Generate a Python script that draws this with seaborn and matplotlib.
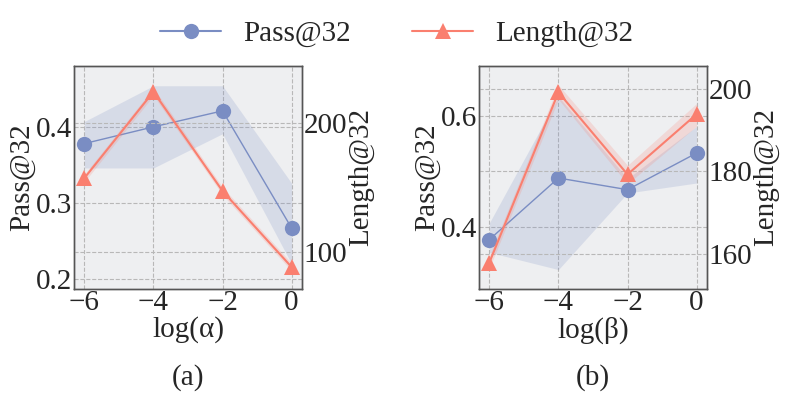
import numpy as np
import pandas as pd
import matplotlib
matplotlib.use("Agg")
import matplotlib.pyplot as plt
import seaborn as sns
from matplotlib.lines import Line2D

# x positions (log scale of the hyper-parameter)
log_vals = [-6, -4, -2, 0]

# panel (a): alpha sweep
pass_a = [0.378, 0.400, 0.421, 0.267]
pass_a_lo = [0.346, 0.346, 0.391, 0.220]
pass_a_hi = [0.407, 0.454, 0.454, 0.326]
len_a = [157, 224, 147, 88]
len_a_lo = [154, 221, 144, 85]
len_a_hi = [160, 227, 150, 91]

# panel (b): beta sweep
pass_b = [0.378, 0.489, 0.468, 0.534]
pass_b_lo = [0.355, 0.324, 0.462, 0.480]
pass_b_hi = [0.408, 0.636, 0.488, 0.582]
len_b = [157.9, 199.2, 179.3, 193.9]
len_b_lo = [156.5, 197.5, 177.0, 191.0]
len_b_hi = [159.5, 201.0, 181.5, 196.5]

BLUE = "#7A8DC3"
RED = "#FA7F6F"
BG = "#EEEFF1"

sns.set_style("white")
plt.rcParams["font.family"] = ["Liberation Serif", "DejaVu Serif"]
FS = 21

fig = plt.figure(figsize=(7.93, 3.99), dpi=100)


def draw_panel(rect, xs, p, plo, phi, l, llo, lhi, pylim, pticks, lylim, lticks, xlabel, tag):
    ax = fig.add_axes(rect)
    ax.set_facecolor(BG)
    ax.fill_between(xs, plo, phi, color=BLUE, alpha=0.2, lw=0, zorder=1)
    df = pd.DataFrame({"x": xs, "y": p})
    sns.lineplot(data=df, x="x", y="y", ax=ax, color=BLUE, lw=1.0,
                 marker="o", markersize=11, markeredgewidth=0, zorder=3)
    ax.set_ylim(*pylim)
    ax.set_yticks(pticks)
    ax.set_xlim(-6.3, 0.3)
    ax.set_xticks(xs)
    ax.set_xticklabels([f"\u2212{abs(v)}" if v < 0 else str(v) for v in xs])
    ax.grid(True, ls="--", color="#B8B8B8", lw=0.8)
    ax.set_axisbelow(True)
    ax.set_ylabel("Pass@32", fontsize=FS, labelpad=1)
    ax.set_xlabel(xlabel, fontsize=FS, labelpad=0)
    ax.tick_params(axis="both", labelsize=FS, length=0, pad=1)

    ax2 = ax.twinx()
    ax2.fill_between(xs, llo, lhi, color=RED, alpha=0.2, lw=0, zorder=1)
    df2 = pd.DataFrame({"x": xs, "y": l})
    sns.lineplot(data=df2, x="x", y="y", ax=ax2, color=RED, lw=1.5,
                 marker="^", markersize=12, markeredgewidth=0, zorder=3)
    ax2.set_ylim(*lylim)
    ax2.set_yticks(lticks)
    ax2.grid(True, axis="y", ls="--", color="#B8B8B8", lw=0.8)
    ax2.set_ylabel("Length@32", fontsize=FS, labelpad=1)
    ax2.set_xlabel("")
    ax2.tick_params(axis="y", labelsize=FS, length=0, pad=1)
    for a in (ax, ax2):
        for s in a.spines.values():
            s.set_color("#555555")
            s.set_linewidth(1.0)
    ax.text(0.5, -0.395, tag, transform=ax.transAxes, ha="center", va="center", fontsize=FS)


draw_panel([0.0933, 0.2757, 0.2875, 0.559], log_vals, pass_a, pass_a_lo, pass_a_hi,
           len_a, len_a_lo, len_a_hi, (0.187, 0.48), [0.2, 0.3, 0.4],
           (71, 244), [100, 200], "log(α)", "(a)")
draw_panel([0.604, 0.2757, 0.2875, 0.559], log_vals, pass_b, pass_b_lo, pass_b_hi,
           len_b, len_b_lo, len_b_hi, (0.289, 0.691), [0.4, 0.6],
           (151.5, 205.6), [160, 180, 200], "log(β)", "(b)")

handles = [
    Line2D([], [], color=BLUE, lw=1.5, marker="o", markersize=11, markeredgewidth=0),
    Line2D([], [], color=RED, lw=1.5, marker="^", markersize=12, markeredgewidth=0),
]
fig.legend(handles, ["Pass@32", "Length@32"], loc="center", bbox_to_anchor=(0.5, 0.915),
           ncol=2, frameon=False, fontsize=FS, handlelength=2.1, handletextpad=0.75,
           columnspacing=2.1)

fig.savefig("out.png", dpi=100)
